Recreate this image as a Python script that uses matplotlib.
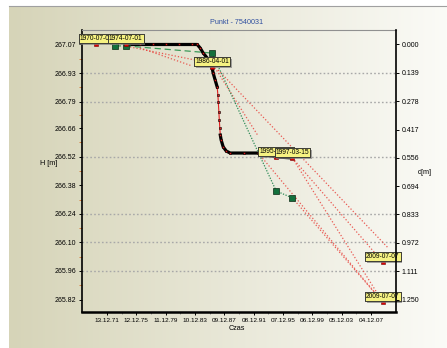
import numpy as np
import pandas as pd
import matplotlib
matplotlib.use("Agg")
import matplotlib.pyplot as plt
import matplotlib.dates as mdates
import matplotlib.patheffects as pe
from matplotlib.lines import Line2D
from matplotlib.colors import LinearSegmentedColormap
from matplotlib.ticker import FixedLocator

plt.rcParams['font.family'] = ['Liberation Sans', 'DejaVu Sans']

title = "Punkt - 7540031"
h_ref = 267.07  # reference height for the depth axis

# model curve of the point height
model_dates = ["1974-07-01", "1976-07-01", "1978-03-15", "1980-01-01", "1981-10-15",
               "1983-07-01", "1984-03-25", "1984-08-20", "1985-01-20", "1985-08-03",
               "1986-01-01", "1986-04-01", "1986-05-30", "1986-09-05", "1986-12-16",
               "1987-01-20", "1987-02-10", "1987-03-10", "1987-04-01", "1987-04-25",
               "1987-05-20", "1987-07-01", "1987-10-12", "1988-03-10", "1988-09-24",
               "1990-08-08", "1992-07-20", "1995-01-01", "1997-03-15"]
model_h = [267.070, 267.070, 267.070, 267.070, 267.070,
           267.070, 267.070, 267.053, 267.028, 267.004,
           266.979, 266.960, 266.930, 266.896, 266.862,
           266.822, 266.788, 266.739, 266.700, 266.661,
           266.626, 266.602, 266.568, 266.548, 266.538,
           266.538, 266.538, 266.519, 266.514]

# levelling measurements
meas_dates = ["1973-01-01", "1974-07-01", "1986-04-01", "1995-01-01", "1997-03-15"]
meas_h = [267.063, 267.063, 267.028, 266.352, 266.318]

# labelled epochs (model value) incl. two forecasts
mark_dates = ["1970-07-01", "1974-07-01", "1986-04-01", "1995-01-01", "1997-03-15",
              "2009-07-07", "2009-07-07"]
mark_h = [267.070, 267.070, 266.960, 266.519, 266.514, 266.004, 265.808]

# trend lines
trend_from = ["1975-02-01", "1976-06-15", "1986-05-30", "1987-02-01", "1997-03-15",
              "1997-03-15", "1992-07-20", "1997-03-15"]
trend_from_h = [267.058, 267.053, 266.970, 266.945, 266.514, 266.514, 266.538, 266.318]
trend_to = ["1983-12-10", "1983-07-10", "1992-07-20", "2010-04-10", "2009-07-07",
            "2009-07-07", "2009-07-07", "2009-07-07"]
trend_to_h = [266.994, 266.965, 266.621, 266.072, 266.004, 265.808, 265.808, 265.808]

x_tick_dates = ["1971-12-13", "1975-12-12", "1979-12-11", "1983-12-10", "1987-12-09",
                "1991-12-08", "1995-12-07", "1999-12-06", "2003-12-05", "2007-12-04"]
h_ticks = [267.07, 266.93, 266.79, 266.66, 266.52, 266.38, 266.24, 266.10, 265.96, 265.82]
h_grid = [266.93, 266.79, 266.52, 266.24, 266.10, 265.96]
d_ticks = [0.000, 0.139, 0.278, 0.417, 0.556, 0.694, 0.833, 0.972, 1.111, 1.250]

W, H = 447, 348
fig = plt.figure(figsize=(W / 100, H / 100), dpi=100, facecolor='white')

# gradient background panel
bg = fig.add_axes([9 / W, 0, 438 / W, 342 / H], zorder=-10)
cmap = LinearSegmentedColormap.from_list('bg', ['#d6d4b8', '#fbfbf7'])
bg.imshow(np.linspace(0, 1, 256)[None, :], aspect='auto', cmap=cmap, extent=[0, 1, 0, 1])
bg.set_axis_off()
fig.add_artist(Line2D([9 / W, 1], [342 / H, 342 / H], color='#a0a0a0', lw=0.8))

ax = fig.add_axes([82 / W, 36 / H, 314 / W, 282 / H])
ax.set_facecolor('none')

for v in h_grid:
    ax.axhline(v, color='#a8a8a8', lw=1.0, ls=(0, (1.2, 1.6)), zorder=1)

# trend lines
for d0, h0, d1, h1 in zip(trend_from, trend_from_h, trend_to, trend_to_h):
    ax.plot(pd.to_datetime([d0, d1]), [h0, h1], color='#e8403a', lw=0.9,
            ls=(0, (1, 1.6)), alpha=0.85, zorder=2)

# model curve
md = pd.to_datetime(model_dates)
ax.plot(md, model_h, color='#e02020', lw=0.8, zorder=3)
ax.plot(md[:15], model_h[:15], color='black', lw=2.3, zorder=3)
ax.plot(md[20:], model_h[20:], color='black', lw=2.3, zorder=3)
ax.plot(md, model_h, ls='none', marker='s', ms=1.8, mfc='#e01818', mec='black',
        mew=0.4, zorder=4)

# measurements
gd = pd.to_datetime(meas_dates)
ax.plot(gd[:3], meas_h[:3], color='#3c9a5a', lw=0.9, dashes=(5, 3), zorder=3)
ax.plot(gd[2:], meas_h[2:], color='#2e8b57', lw=0.9, dashes=(1, 1.2), zorder=3)
ax.plot(gd, meas_h, ls='none', marker='s', ms=3.8, mfc='#13703c', mec='#0a2a14',
        mew=0.5, zorder=5)

# labelled epochs
kd = pd.to_datetime(mark_dates)
ax.plot(kd, mark_h, ls='none', marker='s', ms=3, mfc='#e00000', mec='#700000',
        mew=0.4, zorder=5)
for d, h in zip(kd, mark_h):
    a = ax.annotate(d.strftime('%Y-%m-%d'), xy=(mdates.date2num(d), h), xytext=(0, 2.0),
                    textcoords='offset pixels', ha='center', va='bottom', fontsize=4.8,
                    bbox=dict(boxstyle='square,pad=0.15', fc='#f6f282', ec='#303030', lw=0.6),
                    zorder=7, annotation_clip=False)
    a.get_bbox_patch().set_path_effects(
        [pe.withSimplePatchShadow(offset=(1.2, -1.2), shadow_rgbFace='#808080', alpha=0.7),
         pe.Normal()])

ax.set_xlim(pd.Timestamp('1968-07-16'), pd.Timestamp('2011-04-27'))
ax.set_ylim(265.759, 267.141)
ax.set_yticks(h_ticks)
ax.set_yticklabels([f'{v:.2f}' for v in h_ticks])
xt = pd.to_datetime(x_tick_dates)
ax.set_xticks(xt)
ax.xaxis.set_major_formatter(mdates.DateFormatter('%d.%m.%y'))
ax.yaxis.set_minor_locator(FixedLocator(np.array(h_ticks[:-1]) + np.diff(h_ticks) / 2))
xn = mdates.date2num(xt)
ax.xaxis.set_minor_locator(FixedLocator(xn[:-1] + np.diff(xn) / 2))

ax.tick_params(axis='y', labelsize=5, length=2.5, width=0.7, pad=1.5)
ax.tick_params(axis='x', labelsize=4.6, length=2.5, width=0.7, pad=1.5)
ax.tick_params(axis='y', which='minor', length=2, width=0.7, color='#d88040')
ax.tick_params(axis='x', which='minor', length=1.5, width=0.6, color='#808080')

ax.spines['top'].set_color('#909090')
ax.spines['top'].set_linewidth(0.8)
ax.spines['left'].set_linewidth(1.2)
ax.spines['bottom'].set_linewidth(1.8)
ax.spines['right'].set_visible(False)

ax2 = ax.twinx()
ax2.set_ylim(h_ref - 265.759, h_ref - 267.141)
ax2.set_yticks(d_ticks)
ax2.set_yticklabels([f'{v:.3f}' for v in d_ticks])
ax2.tick_params(axis='y', labelsize=5, length=2.5, width=0.7, pad=1.5)
for s in ['left', 'top', 'bottom']:
    ax2.spines[s].set_visible(False)
ax2.spines['right'].set_linewidth(1.2)

fig.text(237 / W, 1 - 23 / H, title, color='#3050a0', fontsize=5.2, ha='center', va='center')
fig.text(49 / W, 1 - 163 / H, 'H [m]', fontsize=5.2, ha='center', va='center')
fig.text(425 / W, 1 - 173 / H, 'd[m]', fontsize=5.2, ha='center', va='center')
fig.text(237 / W, 1 - 328 / H, 'Czas', fontsize=5.2, ha='center', va='center')

fig.savefig('out.png', dpi=100, facecolor='white')
